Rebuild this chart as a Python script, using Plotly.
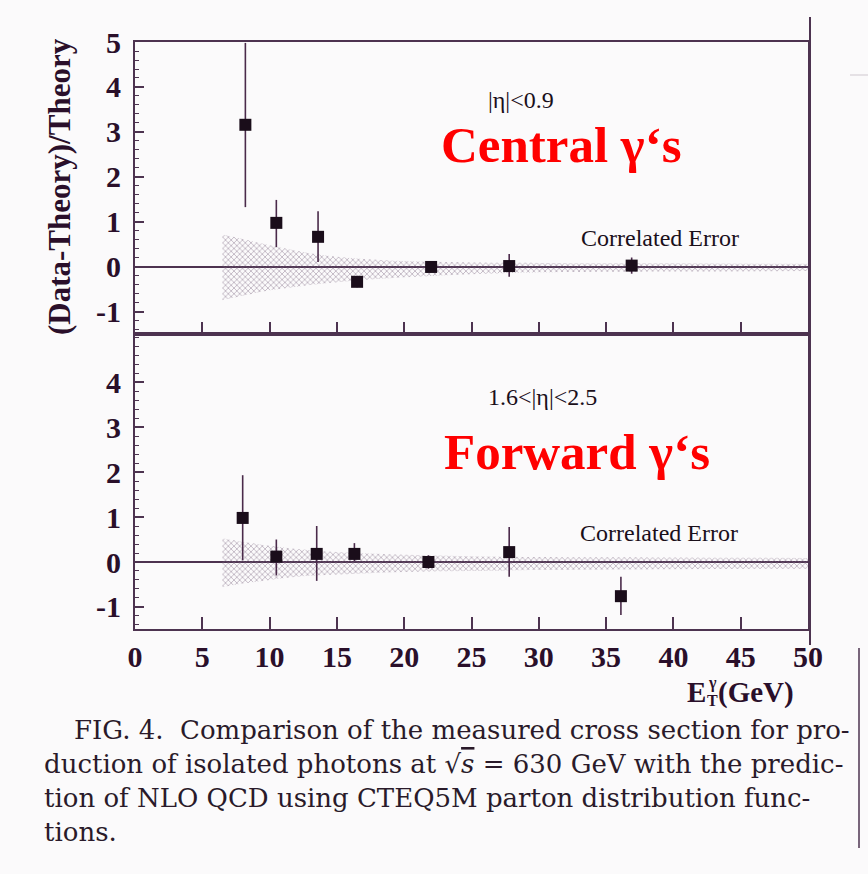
import plotly.graph_objects as go

# ---------------- data ----------------
# Central photons |eta|<0.9
x_c = [8.2, 10.5, 13.6, 16.5, 22.0, 27.8, 36.9]
y_c = [3.16, 0.98, 0.67, -0.33, 0.0, 0.02, 0.03]
up_c = [1.82, 0.51, 0.57, 0.10, 0.08, 0.27, 0.18]
dn_c = [1.83, 0.54, 0.56, 0.12, 0.08, 0.24, 0.18]

# Forward photons 1.6<|eta|<2.5
x_f = [8.0, 10.5, 13.5, 16.3, 21.8, 27.8, 36.1]
y_f = [0.98, 0.12, 0.18, 0.18, 0.0, 0.22, -0.76]
up_f = [0.95, 0.38, 0.62, 0.24, 0.15, 0.56, 0.43]
dn_f = [0.94, 0.42, 0.60, 0.16, 0.15, 0.55, 0.42]

# Correlated error bands
band_x_c = [6.5, 8, 10, 12, 14, 16, 18, 20, 25, 30, 40, 50]
band_hi_c = [0.72, 0.62, 0.48, 0.36, 0.26, 0.20, 0.16, 0.13, 0.10, 0.09, 0.08, 0.07]
band_lo_c = [-0.74, -0.64, -0.52, -0.44, -0.37, -0.31, -0.27, -0.23, -0.16, -0.12, -0.10, -0.09]

band_x_f = [6.5, 8, 10, 12, 15, 20, 25, 30, 40, 50]
band_hi_f = [0.53, 0.45, 0.36, 0.29, 0.22, 0.16, 0.13, 0.11, 0.10, 0.09]
band_lo_f = [-0.56, -0.48, -0.40, -0.33, -0.28, -0.22, -0.20, -0.18, -0.16, -0.15]

x_ticks = [0, 5, 10, 15, 20, 25, 30, 35, 40, 45, 50]
y_ticks_top = [-1, 0, 1, 2, 3, 4, 5]
y_text_top = ["-1", "0", "1", "2", "3", "4", "5"]
y_ticks_bot = [-1, 0, 1, 2, 3, 4]
y_text_bot = ["-1", "0", "1", "2", "3", "4"]

caption_lines = [
    "FIG. 4.  Comparison of the measured cross section for pro-",
    "duction of isolated photons at √<span style='text-decoration:overline'><i>s</i></span> = 630 GeV with the predic-",
    "tion of NLO QCD using CTEQ5M parton distribution func-",
    "tions.",
]

# ---------------- style ----------------
W, H = 868, 874
ML, MR, MT, MB = 135, 60, 42, 245
PW = W - ML - MR
PH = H - MT - MB
BG = "#fbfafb"
FRAME = "#4d3350"
MARK = "#1a0d1a"
ERR = "#4a2a4a"
SERIF = "Liberation Serif"
split = (629 - 334) / PH


def px(xp):
    return (xp - ML) / PW


def py(yp):
    return (H - MB - yp) / PH


fig = go.Figure()

band_pattern = dict(shape="x", size=4, solidity=0.4, fgcolor="#85738a", bgcolor="rgba(0,0,0,0)")

for bx, bl, bh, xa, ya in [
    (band_x_c, band_lo_c, band_hi_c, "x", "y"),
    (band_x_f, band_lo_f, band_hi_f, "x2", "y2"),
]:
    fig.add_trace(go.Scatter(x=bx, y=bl, mode="lines", line=dict(width=0, shape="spline"),
                             xaxis=xa, yaxis=ya, showlegend=False, hoverinfo="skip"))
    fig.add_trace(go.Scatter(x=bx, y=bh, mode="lines", line=dict(width=0, shape="spline"),
                             fill="tonexty", fillcolor="rgba(185,170,185,0.35)",
                             fillpattern=band_pattern,
                             xaxis=xa, yaxis=ya, showlegend=False, hoverinfo="skip"))

for xs, ys, up, dn, xa, ya in [
    (x_c, y_c, up_c, dn_c, "x", "y"),
    (x_f, y_f, up_f, dn_f, "x2", "y2"),
]:
    fig.add_trace(go.Scatter(
        x=xs, y=ys, mode="markers",
        marker=dict(symbol="square", size=12, color=MARK),
        error_y=dict(type="data", array=up, arrayminus=dn, symmetric=False,
                     thickness=1.6, width=0, color=ERR),
        xaxis=xa, yaxis=ya, showlegend=False))

tickfont = dict(family=SERIF, size=30, color="#2a0f2a", weight="bold")
common_x = dict(range=[0, 50], tickvals=x_ticks, ticks="inside", ticklen=12, tickwidth=1.6,
                tickcolor=FRAME, showline=True, linecolor=FRAME, linewidth=2, mirror=True,
                showgrid=False, zeroline=False)
common_y = dict(ticks="inside", ticklen=9, tickwidth=1.5, tickcolor=FRAME, showline=True,
                linecolor=FRAME, linewidth=2, mirror=True, showgrid=False,
                zeroline=True, zerolinecolor=FRAME, zerolinewidth=1.6,
                minor=dict(dtick=0.2, ticks="inside", ticklen=4, tickcolor=FRAME, tickwidth=1),
                tickfont=tickfont, ticklabelstandoff=6)

fig.update_layout(
    width=W, height=H,
    margin=dict(l=ML, r=MR, t=MT, b=MB),
    paper_bgcolor=BG, plot_bgcolor=BG,
    xaxis=dict(domain=[0, 1], anchor="y", showticklabels=False, **common_x),
    yaxis=dict(domain=[split, 1], anchor="x", range=[-1.49, 5.0], tickvals=y_ticks_top,
               ticktext=y_text_top, **common_y),
    xaxis2=dict(domain=[0, 1], anchor="y2", showticklabels=True, tickfont=tickfont,
                ticklabelstandoff=0, **common_x),
    yaxis2=dict(domain=[0, split], anchor="x2", range=[-1.49, 5.07], tickvals=y_ticks_bot,
                ticktext=y_text_bot, **common_y),
)

ann = []
small = dict(family=SERIF, size=24, color="#1a0f1a")
ann.append(dict(text="|η|<0.9", x=26.1, y=3.71, xref="x", yref="y", xanchor="left", yanchor="middle",
                showarrow=False, font=small))
ann.append(dict(text="<b>Central γ‘s</b>", x=22.6, y=2.71, xref="x", yref="y", xanchor="left",
                yanchor="middle", showarrow=False, font=dict(family=SERIF, size=51, color="#ff0000")))
ann.append(dict(text="Correlated Error", x=33.0, y=0.64, xref="x", yref="y", xanchor="left",
                yanchor="middle", showarrow=False, font=small))
ann.append(dict(text="1.6<|η|<2.5", x=26.1, y=3.67, xref="x2", yref="y2", xanchor="left",
                yanchor="middle", showarrow=False, font=small))
ann.append(dict(text="<b>Forward γ‘s</b>", x=22.8, y=2.44, xref="x2", yref="y2", xanchor="left",
                yanchor="middle", showarrow=False, font=dict(family=SERIF, size=51, color="#ff0000")))
ann.append(dict(text="Correlated Error", x=32.9, y=0.64, xref="x2", yref="y2", xanchor="left",
                yanchor="middle", showarrow=False, font=small))

# y axis title
ann.append(dict(text="<b>(Data-Theory)/Theory</b>", x=px(60), y=py(187), xref="paper", yref="paper",
                xanchor="center", yanchor="middle", textangle=-90, showarrow=False,
                font=dict(family=SERIF, size=31, color="#2a0f2a")))

# x axis title E_T^gamma (GeV)
xt_font = dict(family=SERIF, size=29, color="#2a0f2a", weight="bold")
ann.append(dict(text="<b>E</b>", x=px(708), y=py(692), xref="paper", yref="paper", xanchor="right",
                yanchor="middle", showarrow=False, font=xt_font))
ann.append(dict(text="<b>γ</b>", x=px(712), y=py(683), xref="paper", yref="paper", xanchor="center",
                yanchor="middle", showarrow=False, font=dict(family=SERIF, size=16, color="#2a0f2a")))
ann.append(dict(text="<b>T</b>", x=px(712), y=py(700), xref="paper", yref="paper", xanchor="center",
                yanchor="middle", showarrow=False, font=dict(family=SERIF, size=16, color="#2a0f2a")))
ann.append(dict(text="<b>(GeV)</b>", x=px(716), y=py(692), xref="paper", yref="paper", xanchor="left",
                yanchor="middle", showarrow=False, font=xt_font))

# caption
cap_y = [730, 764, 798, 832]
cap_x = [72, 42, 42, 42]
for t, xx, yy in zip(caption_lines, cap_x, cap_y):
    ann.append(dict(text=t, x=px(xx), y=py(yy), xref="paper", yref="paper", xanchor="left",
                    yanchor="middle", showarrow=False,
                    font=dict(family="DejaVu Serif", size=26, color="#2a1a2a")))

fig.update_layout(annotations=ann)

# scan edge lines
shapes = [
    dict(type="line", xref="paper", yref="paper", x0=px(810), x1=px(810), y0=py(17), y1=py(645),
         line=dict(color=FRAME, width=2)),
    dict(type="line", xref="paper", yref="paper", x0=px(859), x1=px(859), y0=py(648), y1=py(848),
         line=dict(color=FRAME, width=1.5)),
    dict(type="line", xref="paper", yref="paper", x0=px(850), x1=px(868), y0=py(75), y1=py(75),
         line=dict(color="#cfc8cf", width=1)),
]
fig.update_layout(shapes=shapes)

fig.write_html("out.html")
